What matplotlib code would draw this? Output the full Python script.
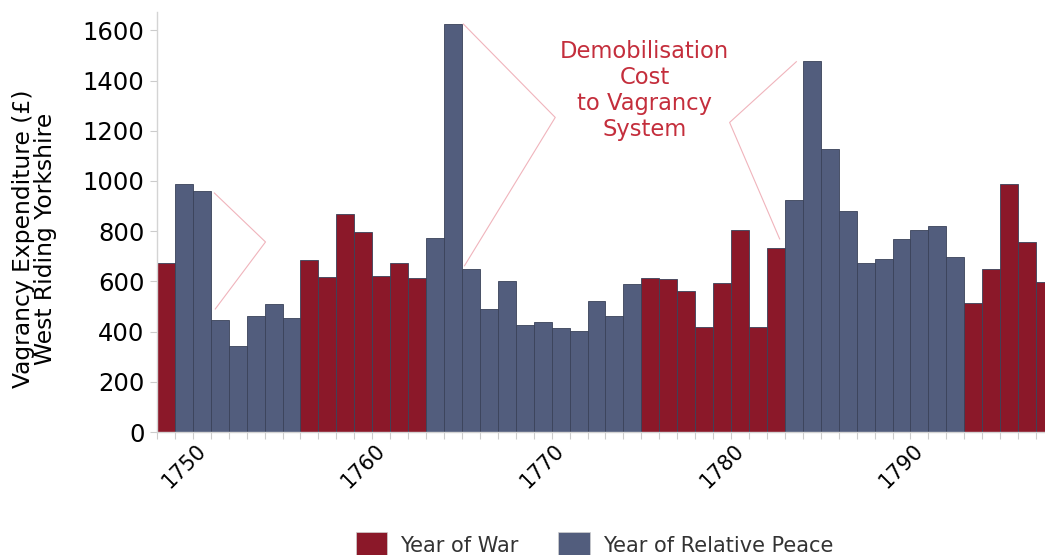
import matplotlib
matplotlib.use('Agg')
import matplotlib.pyplot as plt
from matplotlib.patches import Patch
import numpy as np

# Datos: gasto anual en vagancia (West Riding), 1749-1798
years = list(range(1749, 1799))
expenditure = [673, 989, 961, 446, 341, 463, 509, 455,
               685, 619, 870, 798, 620, 674, 615,
               774, 1625, 648, 489, 600, 425, 439, 413, 402, 523, 463, 591,
               612, 608, 563, 418, 595, 803, 420, 732,
               924, 1479, 1126, 879, 672, 690, 767, 803, 819, 697,
               513, 648, 988, 756, 599]
war_years = set(range(1757, 1764)) | set(range(1776, 1784)) | set(range(1794, 1799)) | {1749}

tick_years = [1750, 1760, 1770, 1780, 1790]
y_ticks = [0, 200, 400, 600, 800, 1000, 1200, 1400, 1600]

# Anotaciones (coordenadas de datos)
callouts = [
    [(1751.7, 952), (1754.55, 757), (1751.75, 490)],
    [(1765.58, 1625), (1770.7, 1253), (1765.64, 662)],
    [(1784.14, 1475), (1780.42, 1233), (1783.21, 769)],
]

RED = '#8b1829'
BLUE = '#525d7d'
EDGE = '#3a4259'
NOTE = '#c42e3c'

fig = plt.figure(figsize=(10.45, 5.55), dpi=100)
ax = fig.add_axes([0.1502, 0.2216, 0.8498, 0.7568])

colors = [RED if y in war_years else BLUE for y in years]
ax.bar(years, expenditure, width=1.0, color=colors, edgecolor=EDGE, linewidth=0.6)

ax.set_xlim(1748.5, 1798.0)
ax.set_ylim(0, 1673)

ax.set_yticks(y_ticks)
ax.set_yticklabels([str(v) for v in y_ticks], fontsize=17.5)
ax.set_xticks(tick_years)
ax.set_xticklabels([str(v) for v in tick_years], rotation=45, fontsize=15)
ax.set_xticks(np.arange(1748.5, 1798.5, 1.0), minor=True)
ax.tick_params(axis='x', which='major', length=0, pad=6)
ax.tick_params(axis='x', which='minor', length=5, color='#cccccc', width=0.8)
ax.tick_params(axis='y', length=5, color='#cccccc', width=0.8, pad=4)

for s in ['top', 'right']:
    ax.spines[s].set_visible(False)
for s in ['left', 'bottom']:
    ax.spines[s].set_color('#d4d4d4')
    ax.spines[s].set_linewidth(1.0)

ax.set_ylabel('Vagrancy Expenditure (£)\nWest Riding Yorkshire', fontsize=16.8,
              linespacing=0.98)
ax.yaxis.set_label_coords(-0.112, 0.46)

for pts in callouts:
    xs, ys = zip(*pts)
    ax.plot(xs, ys, color='#f0b4bc', linewidth=0.8, clip_on=False)

ax.text(1775.68, 1360, 'Demobilisation\nCost\nto Vagrancy\nSystem', color=NOTE,
        fontsize=16.3, ha='center', va='center', linespacing=1.18)

handles = [Patch(facecolor=RED, edgecolor='#d0d0d0', linewidth=0.5, label='Year of War'),
           Patch(facecolor=BLUE, edgecolor='#d0d0d0', linewidth=0.5, label='Year of Relative Peace')]
leg = fig.legend(handles=handles, loc='center', bbox_to_anchor=(0.569, 0.017), ncol=2,
                 frameon=False, fontsize=15, handlelength=1.5, handleheight=1.7,
                 handletextpad=0.65, columnspacing=1.9)
for t in leg.get_texts():
    t.set_color('#333333')

fig.savefig('out.png', dpi=100)
plt.close(fig)
